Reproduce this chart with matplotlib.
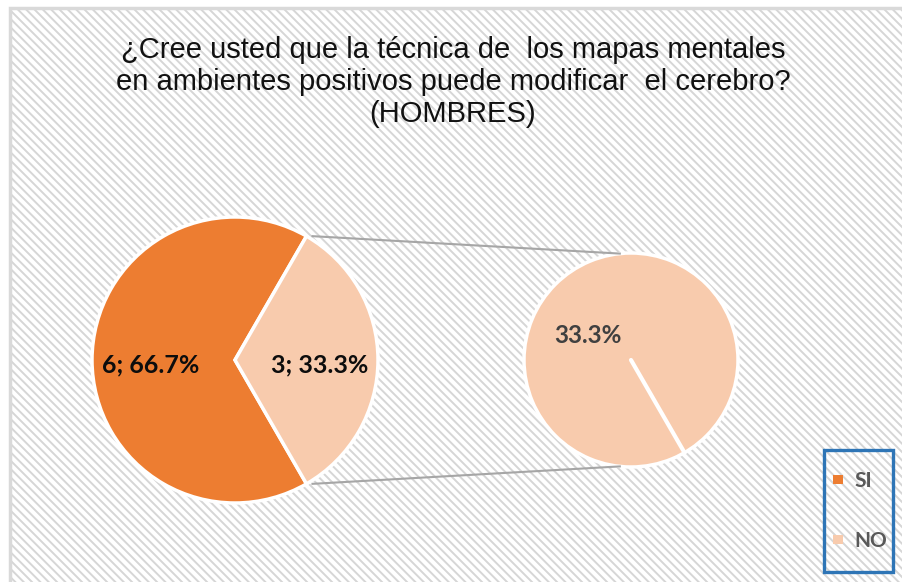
import numpy as np
import matplotlib.pyplot as plt
from matplotlib.patches import Rectangle, Patch

plt.rcParams["hatch.linewidth"] = 1.4
plt.rcParams["hatch.color"] = "#d6d6d6"

# data
labels = ["SI", "NO"]
counts = [6, 3]
colors = ["#ED7D31", "#F8CBAD"]
title = ("¿Cree usted que la técnica de  los mapas mentales\n"
         "en ambientes positivos puede modificar  el cerebro?\n"
         "(HOMBRES)")

W, H = 903, 582
fig = plt.figure(figsize=(W / 100, H / 100), dpi=100)
ax = fig.add_axes([0, 0, 1, 1])
ax.set_xlim(0, W)
ax.set_ylim(0, H)
ax.set_aspect("equal")
ax.axis("off")

# background with diagonal pattern + frame
ax.add_patch(Rectangle((10, -10), W, H - 8 + 10, facecolor="white",
                       edgecolor="none", zorder=0))
ax.add_patch(Rectangle((10, -10), W, H - 8 + 10, facecolor="none",
                       edgecolor="#d6d6d6", linewidth=0, hatch="\\\\\\\\",
                       zorder=0.5))
ax.add_patch(Rectangle((10, -10), W, H - 8 + 10, facecolor="none",
                       edgecolor="#d9d9d9", linewidth=2.5, zorder=0.6))

total = sum(counts)
c1, r1 = (235, 222), 143
c2, r2 = (631, 222), 107


def fmt(pct):
    return "%d; %.1f%%" % (round(pct * total / 100.0), pct)


wedges, _, autotexts = ax.pie(
    counts, colors=colors, startangle=60, center=c1, radius=r1,
    autopct=fmt, pctdistance=0.59, frame=True,
    wedgeprops=dict(edgecolor="white", linewidth=2.5),
    textprops=dict(fontsize=18, fontweight="bold", color="#0d0d0d",
                   family="Lato"))
for t in autotexts:
    x, y = t.get_position()
    t.set_position((x, y - 5))

# secondary pie for the "NO" share
ax.pie([counts[1]], colors=[colors[1]], startangle=-60, center=c2,
       radius=r2, frame=True,
       wedgeprops=dict(edgecolor="white", linewidth=2.5))
ang = np.deg2rad(-60)
ax.plot([c2[0], c2[0] + r2 * np.cos(ang)], [c2[1], c2[1] + r2 * np.sin(ang)],
        color="white", linewidth=3, solid_capstyle="round", zorder=3)
ax.text(c2[0] - 43, c2[1] + 25, "%.1f%%" % (100.0 * counts[1] / total),
        fontsize=17.5, fontweight="bold", color="#404040", family="Lato",
        ha="center", va="center")

# connector lines
for a1, a2 in [(60, 96), (-60, -96)]:
    p1 = (c1[0] + r1 * np.cos(np.deg2rad(a1)), c1[1] + r1 * np.sin(np.deg2rad(a1)))
    p2 = (c2[0] + r2 * np.cos(np.deg2rad(a2)), c2[1] + r2 * np.sin(np.deg2rad(a2)))
    ax.plot([p1[0] + 6, p2[0]], [p1[1], p2[1]], color="#a6a6a6",
            linewidth=1.5, zorder=1)

ax.set_xlim(0, W)
ax.set_ylim(0, H)

ax.text(453, H - 82, title, ha="center", va="center", fontsize=21,
        family="Liberation Sans", color="#111111", linespacing=1.17)

# legend
ax.add_patch(Rectangle((824, 10), 69, 122, facecolor="none",
                       edgecolor="#2E75B6", linewidth=2.4, zorder=4))
handles = [Patch(facecolor=c, edgecolor="none") for c in colors]
leg = ax.legend(handles, labels, loc="center",
                bbox_to_anchor=(860 / W, 71 / H), handlelength=0.45,
                handleheight=0.3, handletextpad=0.55, labelspacing=1.9,
                borderpad=0.0, frameon=False,
                prop=dict(family="Lato", weight="bold", size=15))
for t in leg.get_texts():
    t.set_color("#595959")

fig.savefig("out.png", dpi=100)
